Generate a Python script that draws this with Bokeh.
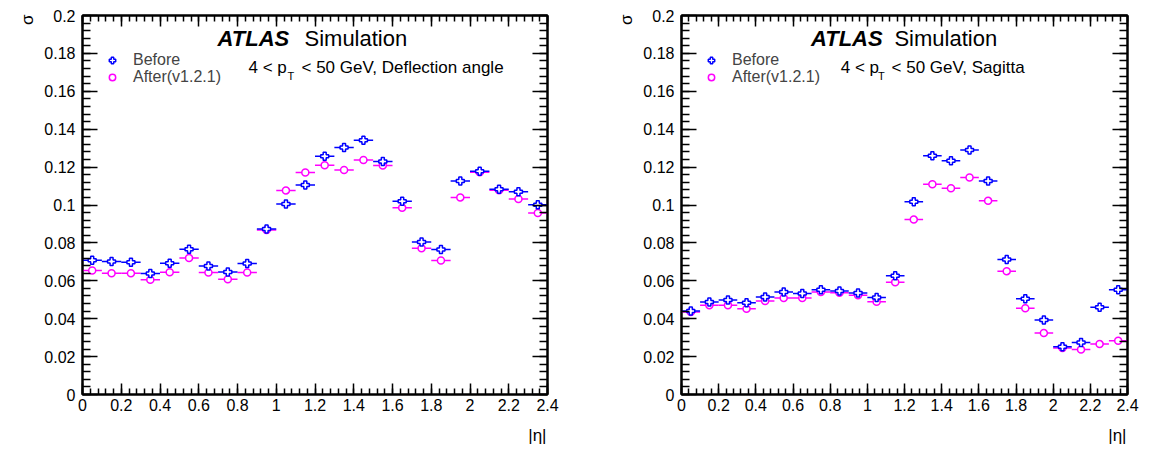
import math
import numpy as np
from bokeh.plotting import figure
from bokeh.models import (Range1d, LinearAxis, FixedTicker, CustomJSTickFormatter,
                          Label, Legend, LegendItem, ColumnDataSource, Title,
                          CustomLabelingPolicy)
from bokeh.layouts import row
from bokeh.embed import file_html
from bokeh.resources import INLINE

# ---------------- data ----------------
eta_centers = [0.05, 0.15, 0.25, 0.35, 0.45, 0.55, 0.65, 0.75, 0.85, 0.95, 1.05, 1.15,
               1.25, 1.35, 1.45, 1.55, 1.65, 1.75, 1.85, 1.95, 2.05, 2.15, 2.25, 2.35]
eta_halfwidth = 0.05

defl_before = [0.0708, 0.0702, 0.0698, 0.0638, 0.0693, 0.0766, 0.0678, 0.0647, 0.0691, 0.0874,
               0.1005, 0.1105, 0.1257, 0.1303, 0.1342, 0.1230, 0.1020, 0.0805, 0.0765, 0.1127,
               0.1178, 0.1083, 0.1070, 0.1001]
defl_after = [0.0654, 0.0640, 0.0640, 0.0606, 0.0645, 0.0720, 0.0644, 0.0608, 0.0644, 0.0868,
              0.1077, 0.1172, 0.1210, 0.1185, 0.1238, 0.1208, 0.0985, 0.0772, 0.0707, 0.1040,
              0.1173, 0.1078, 0.1032, 0.0958]
sag_before = [0.0440, 0.0488, 0.0499, 0.0484, 0.0515, 0.0541, 0.0533, 0.0553, 0.0546, 0.0535,
              0.0512, 0.0627, 0.1017, 0.1260, 0.1233, 0.1290, 0.1127, 0.0712, 0.0505, 0.0393,
              0.0252, 0.0275, 0.0461, 0.0553]
sag_after = [0.0436, 0.0471, 0.0471, 0.0452, 0.0493, 0.0509, 0.0509, 0.0541, 0.0537, 0.0524,
             0.0489, 0.0593, 0.0923, 0.1110, 0.1089, 0.1145, 0.1022, 0.0651, 0.0455, 0.0324,
             0.0246, 0.0237, 0.0266, 0.0284]

x_major_ticks = [0.0, 0.2, 0.4, 0.6, 0.8, 1.0, 1.2, 1.4, 1.6, 1.8, 2.0, 2.2, 2.4]
x_tick_labels = ["0", "0.2", "0.4", "0.6", "0.8", "1", "1.2", "1.4", "1.6", "1.8", "2", "2.2", "2.4"]
y_major_ticks = [0.0, 0.02, 0.04, 0.06, 0.08, 0.10, 0.12, 0.14, 0.16, 0.18, 0.20]
y_tick_labels = ["0", "0.02", "0.04", "0.06", "0.08", "0.1", "0.12", "0.14", "0.16", "0.18", "0.2"]

series_names = ["Before", "After(v1.2.1)"]
subtitles = ["Deflection angle", "Sagitta"]
x_title = "|\u03b7|"
y_title = "\u03c3"

# ---------------- style / layout ----------------
BLUE = "#0000ff"
MAG = "#ff00ff"
FONT = "Liberation Sans"
X_MAX, Y_MAX = 2.4, 0.2
FRAME_W, FRAME_H = 465, 381
FIG_H = 457
B_TOP, B_BOTTOM = 13, 63


def xd(off):
    """frame-left pixel offset -> data x"""
    return off / FRAME_W * X_MAX


def yd(off):
    """frame-top pixel offset (downwards) -> data y"""
    return Y_MAX - off / FRAME_H * Y_MAX


x_minor = np.round(np.arange(0, 2.4001, 0.04), 4).tolist()
y_minor = np.round(np.arange(0, 0.20001, 0.004), 5).tolist()

FMT_CODE = """
let best = -1, bd = 1e9;
for (let i = 0; i < tvals.length; i++) {
  const d = Math.abs(tvals[i] - tick);
  if (d < bd) { bd = d; best = i; }
}
return (best >= 0 && bd < 1e-6) ? tlabels[best] : "";
"""

NO_LABELS = """
for (const i of indices) { indices.unset(i) }
return indices
"""


def style_axis(ax, tick_in, minor_in, show_labels, standoff):
    ax.axis_line_width = 2
    ax.axis_line_color = "black"
    ax.major_tick_in = tick_in
    ax.major_tick_out = 0
    ax.minor_tick_in = minor_in
    ax.minor_tick_out = 0
    ax.major_tick_line_width = 1.5
    ax.minor_tick_line_width = 1.5
    ax.major_tick_line_color = "black"
    ax.minor_tick_line_color = "black"
    ax.major_label_text_font = FONT
    ax.major_label_text_color = "black"
    ax.major_label_text_font_size = "16px"
    if show_labels:
        ax.major_label_standoff = standoff
    else:
        ax.major_label_standoff = 0
        ax.major_label_policy = CustomLabelingPolicy(code=NO_LABELS)


def make_panel(before, after, subtitle, width, bl, br):
    p = figure(width=width, height=FIG_H, x_range=Range1d(0, X_MAX), y_range=Range1d(0, Y_MAX),
               output_backend="svg", toolbar_location=None, x_axis_type=None, y_axis_type=None,
               min_border_left=bl, min_border_right=br, min_border_top=B_TOP,
               min_border_bottom=B_BOTTOM)
    p.outline_line_color = "black"
    p.outline_line_width = 2
    p.background_fill_color = "white"
    p.border_fill_color = "white"

    xt = FixedTicker(ticks=x_major_ticks, minor_ticks=x_minor)
    yt = FixedTicker(ticks=y_major_ticks, minor_ticks=y_minor)

    for place, show in (("below", True), ("above", False)):
        xf = CustomJSTickFormatter(args=dict(tvals=x_major_ticks, tlabels=x_tick_labels),
                                   code=FMT_CODE)
        ax = LinearAxis(ticker=xt, formatter=xf)
        style_axis(ax, 11, 6, show, 4)
        p.add_layout(ax, place)
    for place, show in (("left", True), ("right", False)):
        yf = CustomJSTickFormatter(args=dict(tvals=y_major_ticks, tlabels=y_tick_labels),
                                   code=FMT_CODE)
        ax = LinearAxis(ticker=yt, formatter=yf)
        style_axis(ax, 15, 8, show, 7)
        p.add_layout(ax, place)

    # axis titles, aligned at the axis ends (ROOT style)
    p.add_layout(Title(text=y_title, align="right", offset=-1, standoff=9,
                       text_font=FONT, text_font_size="17px", text_font_style="normal",
                       text_color="black"), "left")
    p.add_layout(Title(text=x_title, align="right", offset=1, standoff=21,
                       vertical_align="bottom",
                       text_font=FONT, text_font_size="17px", text_font_style="normal",
                       text_color="black"), "below")

    lo = [c - eta_halfwidth for c in eta_centers]
    hi = [c + eta_halfwidth for c in eta_centers]
    src_a = ColumnDataSource(dict(x=eta_centers, lo=lo, hi=hi, y=after))
    src_b = ColumnDataSource(dict(x=eta_centers, lo=lo, hi=hi, y=before))

    p.segment(x0="lo", y0="y", x1="hi", y1="y", source=src_a, line_color=MAG, line_width=1.5)
    p.segment(x0="lo", y0="y", x1="hi", y1="y", source=src_b, line_color=BLUE, line_width=1.5)
    r_a = p.scatter("x", "y", source=src_a, marker="circle", size=7, line_color=MAG,
                    fill_color="white", line_width=1.5)
    r_b = p.scatter("x", "y", source=src_b, marker="plus", size=8, line_color=BLUE,
                    fill_color="white", line_width=1.5)

    for name, rend, yup in ((series_names[0], r_b, 325), (series_names[1], r_a, 308)):
        legend = Legend(items=[LegendItem(label=name, renderers=[rend])],
                        location=(20, yup), padding=0, margin=0, spacing=0,
                        glyph_width=20, glyph_height=16, label_height=16, label_standoff=11,
                        label_text_font=FONT, label_text_font_size="16px",
                        background_fill_alpha=0, border_line_alpha=0)
        p.add_layout(legend)

    def lab(text, xo, yo, size, style="normal", align="left"):
        p.add_layout(Label(x=xd(xo), y=yd(yo), text=text, text_font=FONT,
                           text_font_size=size, text_font_style=style, text_align=align,
                           text_baseline="alphabetic", text_color="black"))

    lab("ATLAS", 135, 23, "22px", style="bold italic")
    lab("Simulation", 222, 23, "22px")
    lab("4 < p", 166, 52, "17px")
    lab("T", 205, 61, "11px")
    lab(" < 50 GeV, " + subtitle, 219, 52, "17px")
    return p


p1 = make_panel(defl_before, defl_after, subtitles[0], 610, 82, 63)
p2 = make_panel(sag_before, sag_after, subtitles[1], 551, 64, 22)
layout = row(p1, p2)

open("out.html", "w").write(file_html(layout, INLINE))
